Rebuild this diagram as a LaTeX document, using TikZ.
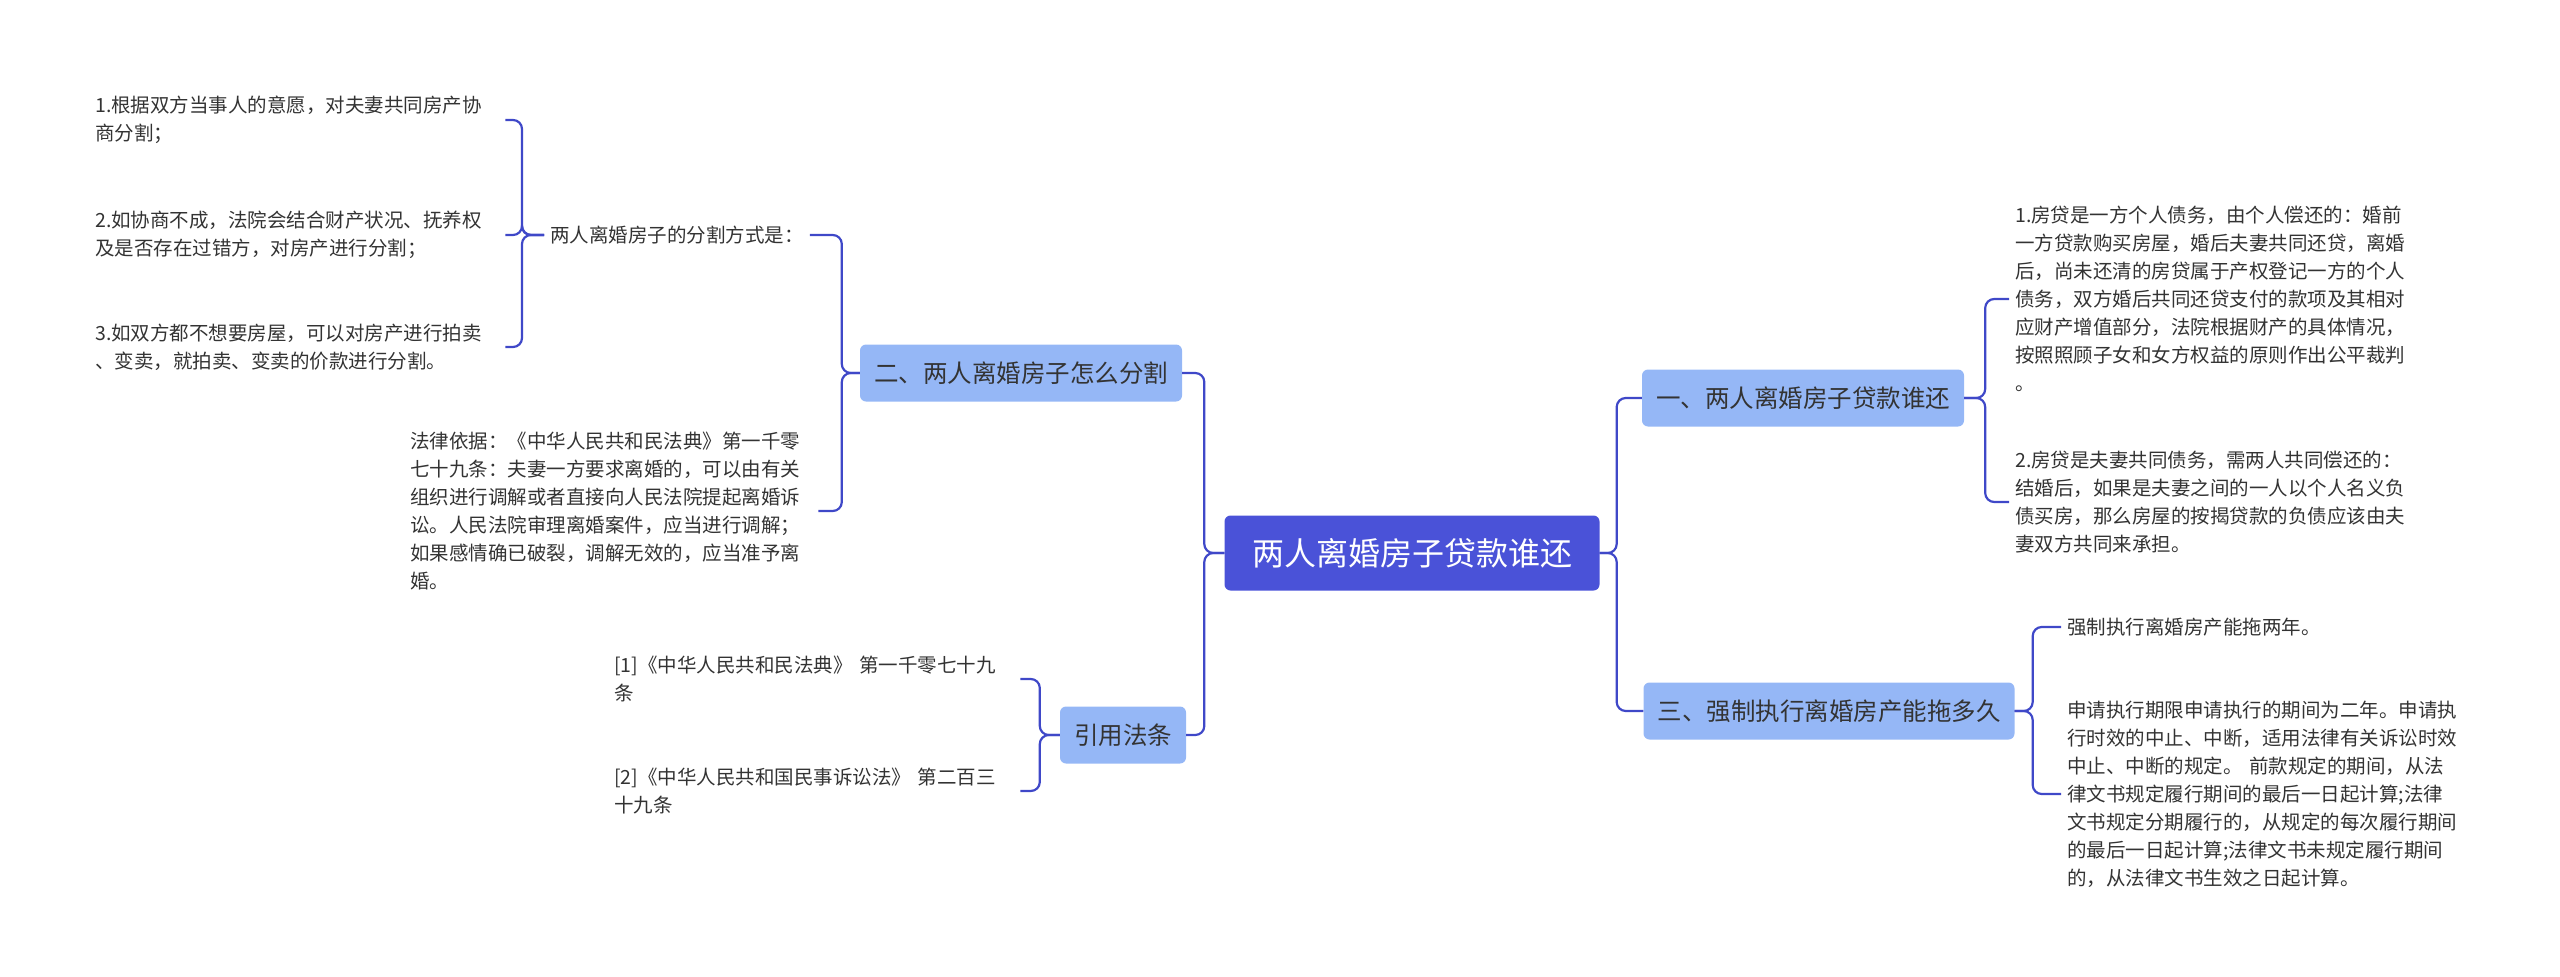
\documentclass[tikz,border=0pt]{standalone}
\usepackage{fontspec}
\setmainfont{Noto Sans CJK SC}
\definecolor{lineblue}{HTML}{3F48C8}
\definecolor{rootfill}{HTML}{4A52D8}
\definecolor{topicfill}{HTML}{95B7F6}
\definecolor{txt}{HTML}{333333}
\tikzset{
  root/.style={rectangle, rounded corners=6pt, fill=rootfill, text=white, font=\fontsize{32}{38}\selectfont, minimum width=375pt, minimum height=75pt},
  topic/.style={rectangle, rounded corners=6pt, fill=topicfill, text=txt, font=\fontsize{24.5}{30}\selectfont, minimum height=57pt, inner xsep=14pt},
  leaf/.style={align=left, text=txt, font=\fontsize{19.5}{28}\selectfont, inner sep=6pt},
  link/.style={draw=lineblue, line width=2.2pt, rounded corners=9pt}
}
\begin{document}
\begin{tikzpicture}[x=1pt,y=-1pt]
\useasboundingbox (0,0) rectangle (2560,977);
\node [root] (center) at (1412,553) {两人离婚房子贷款谁还};
% left side
\node [topic] (split) at (1021,373) {二、两人离婚房子怎么分割};
\node [topic] (law) at (1123,735) {引用法条};
\node [leaf, anchor=west] (way) at (544,235) {两人离婚房子的分割方式是：};
\node [leaf, anchor=west, text width=404pt] (way1) at (89,120) {1.根据双方当事人的意愿，对夫妻共同房产协\\商分割；};
\node [leaf, anchor=west, text width=404pt] (way2) at (89,235) {2.如协商不成，法院会结合财产状况、抚养权\\及是否存在过错方，对房产进行分割；};
\node [leaf, anchor=west, text width=404pt] (way3) at (89,347) {3.如双方都不想要房屋，可以对房产进行拍卖\\、变卖，就拍卖、变卖的价款进行分割。};
\node [leaf, anchor=west, text width=402pt] (basis) at (404,511) {法律依据：《中华人民共和民法典》第一千零\\七十九条：夫妻一方要求离婚的，可以由有关\\组织进行调解或者直接向人民法院提起离婚诉\\讼。人民法院审理离婚案件，应当进行调解；\\如果感情确已破裂，调解无效的，应当准予离\\婚。};
\node [leaf, anchor=west, text width=400pt] (ref1) at (608,679) {[1]《中华人民共和民法典》 第一千零七十九\\条};
\node [leaf, anchor=west, text width=400pt] (ref2) at (608,791) {[2]《中华人民共和国民事诉讼法》 第二百三\\十九条};
% right side
\node [topic] (loan) at (1803,398) {一、两人离婚房子贷款谁还};
\node [topic] (force) at (1829,711) {三、强制执行离婚房产能拖多久};
\node [leaf, anchor=west, text width=420pt] (loan1) at (2009,299) {1.房贷是一方个人债务，由个人偿还的：婚前\\一方贷款购买房屋，婚后夫妻共同还贷，离婚\\后，尚未还清的房贷属于产权登记一方的个人\\债务，双方婚后共同还贷支付的款项及其相对\\应财产增值部分，法院根据财产的具体情况，\\按照照顾子女和女方权益的原则作出公平裁判\\。};
\node [leaf, anchor=west, text width=420pt] (loan2) at (2009,502) {2.房贷是夫妻共同债务，需两人共同偿还的：\\结婚后，如果是夫妻之间的一人以个人名义负\\债买房，那么房屋的按揭贷款的负债应该由夫\\妻双方共同来承担。};
\node [leaf, anchor=west] (force1) at (2061,627) {强制执行离婚房产能拖两年。};
\node [leaf, anchor=west, text width=420pt] (force2) at (2061,794) {申请执行期限申请执行的期间为二年。申请执\\行时效的中止、中断，适用法律有关诉讼时效\\中止、中断的规定。 前款规定的期间，从法\\律文书规定履行期间的最后一日起计算;法律\\文书规定分期履行的，从规定的每次履行期间\\的最后一日起计算;法律文书未规定履行期间\\的，从法律文书生效之日起计算。};
% connectors
\foreach \c in {split,law} \draw [link] (center.west) -- ++(-20,0) |- (\c.east);
\foreach \c in {loan,force} \draw [link] (center.east) -- ++(17,0) |- (\c.west);
\foreach \c in {way,basis} \draw [link] (split.west) -- ++(-18,0) |- (\c.east);
\foreach \c in {way1,way2,way3} \draw [link] (way.west) -- ++(-22,0) |- (\c.east);
\foreach \c in {ref1,ref2} \draw [link] (law.west) -- ++(-20,0) |- (\c.east);
\foreach \c in {loan1,loan2} \draw [link] (loan.east) -- ++(21,0) |- (\c.west);
\foreach \c in {force1,force2} \draw [link] (force.east) -- ++(18,0) |- (\c.west);
\end{tikzpicture}
\end{document}
